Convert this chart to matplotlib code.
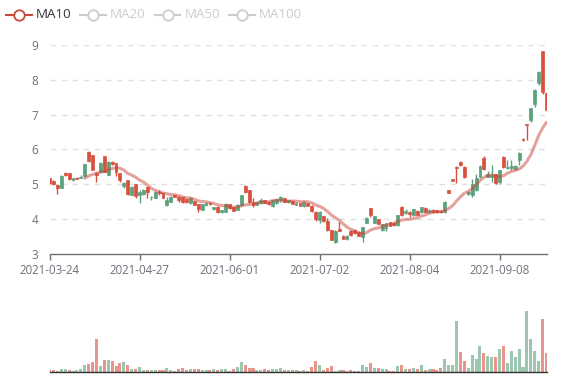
import numpy as np
import matplotlib
matplotlib.use("Agg")
import matplotlib.pyplot as plt
from matplotlib.lines import Line2D

# ---------------- data ----------------
tick_labels = ["2021-03-24", "2021-04-27", "2021-06-01", "2021-07-02", "2021-08-04", "2021-09-08"]
tick_index = [0, 23, 46, 69, 92, 115]

open_ = [5.17, 5.09, 4.98, 4.90, 5.32, 5.31, 5.13, 5.19, 5.18, 5.24,
         5.92, 5.84, 5.32, 5.34, 5.80, 5.27, 5.65, 5.60, 5.31, 4.96,
         5.12, 4.69, 5.01, 4.69, 4.71, 4.91, 4.62, 4.60, 4.79, 4.76,
         4.39, 4.50, 4.69, 4.64, 4.62, 4.57, 4.45, 4.52, 4.43, 4.26,
         4.40, 4.47, 4.29, 4.36, 4.19, 4.21, 4.42, 4.34, 4.26, 4.39,
         4.96, 4.82, 4.50, 4.41, 4.45, 4.55, 4.50, 4.38, 4.45, 4.55,
         4.60, 4.48, 4.53, 4.41, 4.45, 4.38, 4.45, 4.38, 4.19, 3.97,
         4.09, 3.93, 3.69, 3.35, 3.72, 3.52, 3.42, 3.67, 3.69, 3.64,
         3.49, 3.90, 4.31, 3.90, 4.00, 3.70, 3.74, 3.91, 3.90, 3.82,
         4.34, 4.17, 4.21, 4.12, 4.24, 4.19, 4.31, 4.19, 4.26, 4.25,
         4.24, 4.19, 4.82, 5.15, 5.50, 5.63, 5.50, 4.72, 4.69, 4.82,
         5.22, 5.74, 5.22, 5.22, 5.29, 5.05, 5.78, 5.46, 5.46, 5.45,
         5.70, 6.31, 6.73, 6.83, 7.31, 7.91, 8.81, 7.63]
close = [5.03, 5.00, 4.90, 5.24, 5.27, 5.16, 5.18, 5.16, 5.22, 5.57,
         5.68, 5.41, 5.25, 5.62, 5.36, 5.65, 5.59, 5.34, 5.12, 5.04,
         4.71, 4.93, 4.65, 4.79, 4.82, 4.77, 4.64, 4.79, 4.74, 4.60,
         4.55, 4.64, 4.63, 4.55, 4.48, 4.48, 4.60, 4.41, 4.28, 4.42,
         4.47, 4.42, 4.34, 4.19, 4.26, 4.42, 4.33, 4.24, 4.41, 4.69,
         4.79, 4.50, 4.41, 4.50, 4.55, 4.47, 4.42, 4.55, 4.57, 4.64,
         4.50, 4.55, 4.43, 4.46, 4.38, 4.50, 4.38, 4.23, 4.00, 4.21,
         3.93, 3.69, 3.40, 3.67, 3.67, 3.43, 3.51, 3.55, 3.59, 3.51,
         3.76, 4.02, 4.12, 4.09, 3.86, 3.86, 3.88, 3.80, 3.82, 4.12,
         4.12, 4.24, 4.14, 4.28, 4.12, 4.34, 4.19, 4.26, 4.19, 4.19,
         4.19, 4.50, 4.76, 5.09, 5.46, 5.55, 5.20, 4.78, 5.01, 5.17,
         5.53, 5.43, 5.29, 5.27, 5.03, 5.41, 5.49, 5.49, 5.51, 5.53,
         5.89, 6.26, 6.69, 7.19, 7.69, 8.23, 7.64, 7.14]
low = [5.01, 4.97, 4.73, 4.88, 5.23, 5.13, 5.10, 5.15, 5.17, 5.22,
       5.65, 5.40, 5.06, 5.32, 5.34, 5.25, 5.55, 5.23, 5.06, 4.88,
       4.70, 4.68, 4.60, 4.47, 4.69, 4.60, 4.56, 4.59, 4.70, 4.59,
       4.38, 4.48, 4.62, 4.50, 4.47, 4.46, 4.43, 4.40, 4.21, 4.25,
       4.37, 4.41, 4.27, 4.17, 4.18, 4.19, 4.29, 4.22, 4.25, 4.38,
       4.74, 4.45, 4.36, 4.40, 4.43, 4.46, 4.41, 4.36, 4.44, 4.50,
       4.49, 4.47, 4.42, 4.40, 4.37, 4.36, 4.37, 4.21, 3.94, 3.88,
       3.92, 3.67, 3.39, 3.30, 3.66, 3.42, 3.41, 3.52, 3.58, 3.50,
       3.35, 3.88, 4.07, 3.88, 3.85, 3.66, 3.66, 3.79, 3.81, 3.80,
       4.10, 4.14, 4.07, 4.10, 4.11, 4.18, 4.18, 4.17, 4.18, 4.18,
       4.17, 4.18, 4.75, 5.08, 5.03, 5.53, 5.18, 4.70, 4.64, 4.80,
       5.20, 5.41, 5.20, 5.05, 5.00, 5.00, 5.46, 5.43, 5.41, 5.41,
       5.56, 6.25, 6.28, 6.79, 7.21, 7.86, 7.60, 7.10]
high = [5.19, 5.11, 5.00, 5.26, 5.36, 5.31, 5.19, 5.20, 5.25, 5.59,
        5.94, 5.85, 5.34, 5.64, 5.81, 5.67, 5.68, 5.61, 5.32, 5.06,
        5.13, 4.95, 5.02, 4.84, 4.86, 4.92, 4.66, 4.80, 4.84, 4.77,
        4.62, 4.67, 4.70, 4.65, 4.63, 4.58, 4.63, 4.53, 4.44, 4.43,
        4.50, 4.48, 4.36, 4.37, 4.27, 4.45, 4.43, 4.35, 4.42, 4.70,
        4.98, 4.83, 4.60, 4.52, 4.60, 4.56, 4.51, 4.56, 4.58, 4.66,
        4.61, 4.56, 4.54, 4.48, 4.46, 4.52, 4.46, 4.39, 4.22, 4.22,
        4.10, 4.02, 3.70, 3.68, 3.92, 3.53, 3.53, 3.69, 3.70, 3.65,
        3.78, 4.05, 4.33, 4.10, 4.01, 3.87, 3.89, 3.92, 3.91, 4.13,
        4.38, 4.28, 4.22, 4.30, 4.25, 4.36, 4.36, 4.28, 4.30, 4.26,
        4.25, 4.51, 4.83, 5.16, 5.51, 5.66, 5.51, 4.80, 5.14, 5.29,
        5.55, 5.82, 5.37, 5.56, 5.30, 5.42, 5.80, 5.70, 5.70, 5.55,
        5.91, 6.32, 6.74, 7.20, 7.72, 8.25, 8.81, 7.65]
volume = [6, 6, 4, 10, 8, 6, 4, 6, 9, 21,
          24, 30, 98, 17, 36, 36, 33, 17, 26, 30,
          21, 9, 10, 15, 6, 6, 6, 6, 7, 7,
          12, 6, 4, 8, 13, 6, 10, 8, 8, 6,
          6, 5, 8, 6, 9, 9, 3, 8, 14, 30,
          20, 11, 11, 6, 6, 9, 6, 9, 8, 11,
          6, 6, 6, 6, 4, 7, 4, 15, 33, 21,
          5, 11, 17, 3, 6, 5, 3, 5, 3, 4,
          20, 16, 27, 12, 11, 9, 9, 3, 3, 18,
          22, 8, 9, 11, 10, 22, 6, 10, 8, 6,
          11, 39, 21, 21, 152, 59, 33, 12, 50, 40,
          78, 56, 48, 45, 45, 68, 79, 28, 62, 45,
          69, 15, 184, 98, 64, 34, 160, 56]
# direction used to colour the volume bars (1 = green, -1 = red)
vol_dir = [-1, -1, -1, 1, 1, -1, 1, 1, 1, 1,
           -1, -1, -1, 1, -1, 1, -1, -1, -1, 1,
           -1, 1, -1, 1, 1, -1, 1, 1, -1, -1,
           1, 1, -1, -1, -1, -1, 1, -1, -1, 1,
           1, -1, 1, -1, 1, 1, -1, -1, 1, 1,
           -1, -1, -1, 1, 1, -1, -1, 1, 1, 1,
           -1, 1, -1, 1, -1, 1, -1, -1, -1, 1,
           -1, -1, -1, 1, 1, -1, 1, -1, -1, -1,
           1, 1, -1, 1, -1, 1, 1, -1, -1, 1,
           -1, 1, -1, 1, -1, 1, -1, 1, -1, -1,
           -1, 1, 1, 1, 1, -1, -1, 1, 1, 1,
           1, -1, 1, 1, -1, 1, -1, 1, 1, 1,
           1, 1, 1, 1, 1, 1, -1, -1]
legend_names = ["MA10", "MA20", "MA50", "MA100"]

# ---------------- styling ----------------
UP = "#5aa17c"
DOWN = "#d9503e"
MA_COLOR = "#c9473b"
LABEL = "#6e7079"
plt.rcParams["font.family"] = ["Open Sans", "DejaVu Sans"]

W, H = 577, 380
fig = plt.figure(figsize=(W / 100, H / 100), dpi=100)

def px_axes(x0, y_top, x1, y_bot):
    return fig.add_axes([x0 / W, 1 - y_bot / H, (x1 - x0) / W, (y_bot - y_top) / H])

n = len(close)
xs = np.arange(n)
o = np.array(open_); c = np.array(close); lo = np.array(low); hi = np.array(high)
up = c > o
cols = np.where(up, UP, DOWN)

# ---------------- price panel ----------------
ax = px_axes(49.5, 44.8, 546.5, 253.9)
ax.set_xlim(0, n - 1)
ax.set_ylim(3, 9)
ax.vlines(xs, lo, hi, colors=cols, linewidth=1.0, zorder=2)
body_bottom = np.minimum(o, c)
body_h = np.maximum(np.abs(c - o), 0.012)
ax.bar(xs, body_h, bottom=body_bottom, width=0.74, color=cols, edgecolor=cols,
       linewidth=0.5, zorder=3)

ma10 = np.full(n, np.nan)
for i in range(9, n):
    ma10[i] = np.mean(c[i - 9:i + 1])
ax.plot(xs, ma10, color=MA_COLOR, alpha=0.5, linewidth=2.2, zorder=4,
        solid_capstyle="round")

ax.set_yticks(range(3, 10))
ax.set_yticklabels([str(v) for v in range(3, 10)])
for v in range(4, 10):
    ax.axhline(v, color="#e0e0e0", linewidth=1, linestyle=(0, (4, 4)), zorder=0)
ax.set_xticks(tick_index)
ax.set_xticklabels(tick_labels)
ax.tick_params(axis="y", length=0, pad=8, labelsize=8.5, labelcolor=LABEL)
ax.tick_params(axis="x", length=4, width=1, color=LABEL, pad=3, labelsize=8.3,
               labelcolor=LABEL)
for s in ["top", "right", "left"]:
    ax.spines[s].set_visible(False)
ax.spines["bottom"].set_color(LABEL)
ax.spines["bottom"].set_linewidth(1)

# ---------------- volume panel ----------------
axv = px_axes(49.5, 300, 546.5, 372)
axv.set_xlim(0, n - 1)
axv.set_ylim(0, 216)
vcols = [UP if d > 0 else DOWN for d in vol_dir]
axv.bar(xs, volume, width=0.78, color=vcols, alpha=0.6, edgecolor="none")
axv.set_xticks([]); axv.set_yticks([])
for s in ["top", "right", "left"]:
    axv.spines[s].set_visible(False)
axv.spines["bottom"].set_color("#333333")
axv.spines["bottom"].set_linewidth(1)

# ---------------- legend ----------------
leg_icon_x = [18.5, 93, 167.5, 241.5]
leg_text_x = [36, 110, 185, 259]
for k, name in enumerate(legend_names):
    active = (k == 0)
    col = MA_COLOR if active else "#cccccc"
    tcol = "#333333" if active else "#cccccc"
    cx = leg_icon_x[k] / W
    cy = 1 - 15 / H
    fig.add_artist(Line2D([cx - 13 / W, cx + 13 / W], [cy, cy], color=col,
                          linewidth=1.5, transform=fig.transFigure))
    fig.add_artist(Line2D([cx], [cy], marker="o", markersize=7.5, markerfacecolor="white",
                          markeredgecolor=col, markeredgewidth=1.3, color=col,
                          transform=fig.transFigure))
    fig.text(leg_text_x[k] / W, cy, name, color=tcol, fontsize=9.6, va="center", ha="left")

fig.savefig("out.png", dpi=100)
